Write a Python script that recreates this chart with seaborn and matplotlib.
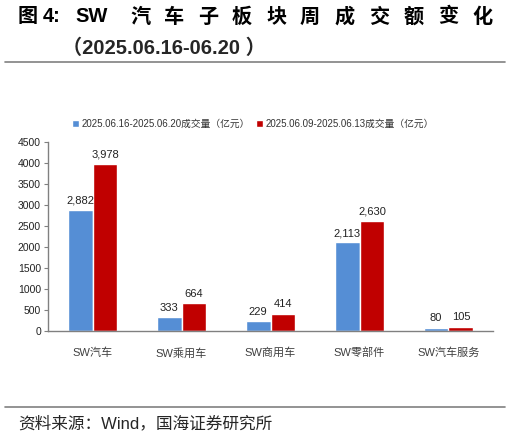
import matplotlib
matplotlib.use("Agg")
import matplotlib.pyplot as plt
import seaborn as sns
import pandas as pd
from matplotlib.lines import Line2D
from matplotlib.patches import Patch

categories = ["SW汽车", "SW乘用车", "SW商用车", "SW零部件", "SW汽车服务"]
this_week = [2882, 333, 229, 2113, 80]
last_week = [3978, 664, 414, 2630, 105]
series_names = ["2025.06.16-2025.06.20成交量（亿元）", "2025.06.09-2025.06.13成交量（亿元）"]
colors = ["#558ED5", "#C00000"]

sns.set_theme(style="white")
plt.rcParams["font.family"] = ["Noto Sans CJK SC", "DejaVu Sans"]
latin = ["Liberation Sans", "Noto Sans CJK SC"]

df = pd.DataFrame({
    "cat": categories * 2,
    "val": this_week + last_week,
    "series": [series_names[0]] * 5 + [series_names[1]] * 5,
})

fig = plt.figure(figsize=(5.1, 4.37), dpi=100)
ax = fig.add_axes([48 / 510, 1 - 331 / 437, 445 / 510, 189 / 437])

sns.barplot(data=df, x="cat", y="val", hue="series", palette=colors,
            width=0.56, gap=0, saturation=1, ax=ax, legend=False)

for cont in ax.containers:
    labels = [f"{v:,.0f}" for v in cont.datavalues]
    ax.bar_label(cont, labels=labels, padding=3, fontsize=8, color="#222222", family=latin)

ax.set_ylim(0, 4500)
ax.set_yticks(range(0, 4501, 500))
ax.set_xlim(-0.5, 4.5)
ax.set_xlabel("")
ax.set_ylabel("")
for s in ["top", "right"]:
    ax.spines[s].set_visible(False)
for s in ["left", "bottom"]:
    ax.spines[s].set_color("#808080")
    ax.spines[s].set_linewidth(1.0)
ax.tick_params(axis="y", left=True, length=3, width=0.8, color="#808080",
               labelsize=7.5, labelcolor="#222222", pad=2)
ax.tick_params(axis="x", bottom=False, labelsize=8, labelcolor="#404040", pad=6)
for t in ax.get_yticklabels() + ax.get_xticklabels():
    t.set_family(latin)

handles = [Patch(facecolor=c) for c in colors]
leg = fig.legend(handles, series_names, loc="center", bbox_to_anchor=(253 / 510, 1 - 124 / 437),
                 ncol=2, frameon=False, fontsize=7, handlelength=0.7, handleheight=0.7,
                 handletextpad=0.3, columnspacing=0.6, labelcolor="#333333")
for t in leg.get_texts():
    t.set_family(latin)

# title, spread across the width
title_tokens = ["图", "4:", "SW", "汽", "车", "子", "板", "块", "周", "成", "交", "额", "变", "化"]
title_x = [18, 43, 75, 130, 164, 198, 232, 266, 300, 335, 369, 404, 438, 472]
for tok, x in zip(title_tokens, title_x):
    fig.text(x / 510, 1 - 17 / 437, tok, fontsize=14.5, fontweight="bold",
             ha="left", va="center", color="black", family=latin)
fig.text(62 / 510, 1 - 48 / 437, "（2025.06.16-06.20 ）", fontsize=14.5, fontweight="bold",
         ha="left", va="center", family=latin)

fig.add_artist(Line2D([5 / 510, 505 / 510], [1 - 62 / 437] * 2, color="#808080", lw=1.2))
fig.add_artist(Line2D([5 / 510, 505 / 510], [1 - 407 / 437] * 2, color="#808080", lw=1.2))

fig.text(18 / 510, 1 - 423 / 437, "资料来源：Wind，国海证券研究所", fontsize=12,
         ha="left", va="center", family=latin)

fig.savefig("out.png", dpi=100)
